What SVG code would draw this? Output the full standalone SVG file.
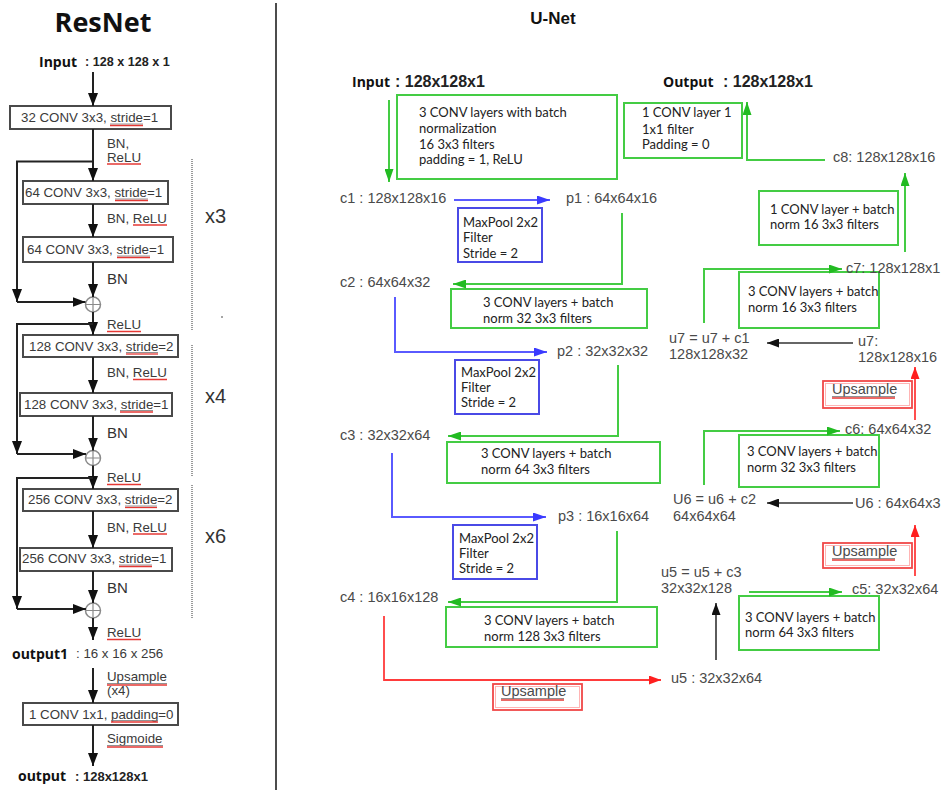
<svg xmlns="http://www.w3.org/2000/svg" width="941" height="790" viewBox="0 0 941 790">
  <defs>
    <style>
      .ttl{font-family:"Open Sans","Liberation Sans",sans-serif;font-weight:700;fill:#111}
      .ttl2{font-family:"Liberation Sans",Arial,sans-serif;font-weight:700;fill:#111}
      .hd{font-family:"Open Sans","Liberation Sans",sans-serif;font-weight:700;font-size:14px;fill:#111}
      .hdv{font-family:"Liberation Sans",Arial,sans-serif;font-weight:700;fill:#222}
      .rbox{fill:#fff;stroke:#4a4a4a;stroke-width:2}
      .rtx{font-family:"Liberation Sans",Arial,sans-serif;font-size:13.3px;fill:#3a3a3a}
      .rbn{font-family:"Liberation Sans",Arial,sans-serif;font-size:15px;fill:#333}
      .rep{font-family:"Liberation Sans",Arial,sans-serif;font-size:20px;fill:#333}
      .rk{fill:none;stroke:#222;stroke-width:2}
      .sum{fill:#fff;stroke:#8a8a8a;stroke-width:1.5}
      .dots{stroke:#9a9a9a;stroke-width:2;stroke-dasharray:1 1}
      .ul{stroke:#777;stroke-width:0.8}
      .rul{stroke:#e53935;stroke-width:1.3}
      .lbl{font-family:"Liberation Sans",Arial,sans-serif;font-size:14.5px;fill:#4a4a4a}
      .btx{font-family:Lato,"Open Sans",sans-serif;font-size:13px;fill:#222}
      .gbox{fill:#fff;stroke:#44cc44;stroke-width:2}
      .bbox{fill:#fff;stroke:#4a4ae6;stroke-width:2}
      .xbox{fill:#fff;stroke:#f04848;stroke-width:1.8}
      .xin{fill:none;stroke:#ffb4b4;stroke-width:1}
      .lg{fill:none;stroke:#44cc44;stroke-width:2}
      .lb{fill:none;stroke:#5a5aff;stroke-width:2}
      .lr{fill:none;stroke:#ff3b3b;stroke-width:1.8}
      .lk{fill:none;stroke:#333;stroke-width:1.6}
    </style>
    <marker id="mk-r" viewBox="0 0 13 10" refX="13" refY="5" markerWidth="13" markerHeight="10" markerUnits="userSpaceOnUse" orient="auto">
      <path d="M0,0 L13,5 L0,10 Z" fill="#111"/>
    </marker>
    <marker id="mk-g" viewBox="0 0 13 9" refX="13" refY="4.5" markerWidth="13" markerHeight="9" markerUnits="userSpaceOnUse" orient="auto">
      <path d="M0,0 L13,4.5 L0,9 Z" fill="#22bb22"/>
    </marker>
    <marker id="mk-b" viewBox="0 0 13 9" refX="13" refY="4.5" markerWidth="13" markerHeight="9" markerUnits="userSpaceOnUse" orient="auto">
      <path d="M0,0 L13,4.5 L0,9 Z" fill="#3a3aff"/>
    </marker>
    <marker id="mk-x" viewBox="0 0 12 9" refX="12" refY="4.5" markerWidth="12" markerHeight="9" markerUnits="userSpaceOnUse" orient="auto">
      <path d="M0,0 L12,4.5 L0,9 Z" fill="#ff1f1f"/>
    </marker>
    <marker id="mk-k" viewBox="0 0 12 9" refX="12" refY="4.5" markerWidth="12" markerHeight="9" markerUnits="userSpaceOnUse" orient="auto">
      <path d="M0,0 L12,4.5 L0,9 Z" fill="#111"/>
    </marker>
  </defs>

  <rect width="941" height="790" fill="#fff"/>

  <!-- panel divider -->
  <line x1="276" y1="3" x2="276" y2="790" stroke="#111" stroke-width="1.5"/>

  <!-- ===================== ResNet ===================== -->
  <text class="ttl" x="103" y="32" font-size="27" text-anchor="middle">ResNet</text>

  <g id="res-input">
    <text class="hd" x="39" y="67">Input</text>
    <text class="hdv" x="85" y="66" font-size="12.6">: 128 x 128 x 1</text>
  </g>

  <g id="res-conv1">
    <rect class="rbox" x="10" y="106" width="161" height="23"/>
    <text class="rtx" x="21" y="122">32 CONV 3x3, stride=1</text>
    <line class="ul" x1="110" y1="124" x2="143" y2="124"/>
    <line class="rul" x1="110" y1="125.5" x2="143" y2="125.5"/>
  </g>
  <g id="res-conv2">
    <rect class="rbox" x="23" y="181" width="145" height="23"/>
    <text class="rtx" x="25" y="197">64 CONV 3x3, stride=1</text>
    <line class="ul" x1="115" y1="199" x2="148" y2="199"/>
    <line class="rul" x1="115" y1="200.5" x2="148" y2="200.5"/>
  </g>
  <g id="res-conv3">
    <rect class="rbox" x="23" y="237" width="150" height="25"/>
    <text class="rtx" x="27" y="254">64 CONV 3x3, stride=1</text>
    <line class="ul" x1="117" y1="256" x2="150" y2="256"/>
    <line class="rul" x1="117" y1="257.5" x2="150" y2="257.5"/>
  </g>
  <g id="res-conv4">
    <rect class="rbox" x="23" y="335" width="155" height="22"/>
    <text class="rtx" x="29" y="350.5">128 CONV 3x3, stride=2</text>
    <line class="ul" x1="126" y1="352.5" x2="158" y2="352.5"/>
    <line class="rul" x1="126" y1="354" x2="158" y2="354"/>
  </g>
  <g id="res-conv5">
    <rect class="rbox" x="20" y="393" width="152" height="23"/>
    <text class="rtx" x="24" y="408.5">128 CONV 3x3, stride=1</text>
    <line class="ul" x1="120" y1="410.5" x2="153" y2="410.5"/>
    <line class="rul" x1="120" y1="412" x2="153" y2="412"/>
  </g>
  <g id="res-conv6">
    <rect class="rbox" x="23" y="489" width="155" height="22"/>
    <text class="rtx" x="28" y="504">256 CONV 3x3, stride=2</text>
    <line class="ul" x1="125" y1="506" x2="157" y2="506"/>
    <line class="rul" x1="125" y1="507.5" x2="157" y2="507.5"/>
  </g>
  <g id="res-conv7">
    <rect class="rbox" x="20" y="548" width="152" height="23"/>
    <text class="rtx" x="22" y="563">256 CONV 3x3, stride=1</text>
    <line class="ul" x1="119" y1="565" x2="152" y2="565"/>
    <line class="rul" x1="119" y1="566.5" x2="152" y2="566.5"/>
  </g>
  <g id="res-conv8">
    <rect class="rbox" x="23" y="703" width="155" height="22"/>
    <text class="rtx" x="29" y="718.5">1 CONV 1x1, padding=0</text>
    <line class="ul" x1="111" y1="720.5" x2="158" y2="720.5"/>
    <line class="rul" x1="111" y1="722" x2="158" y2="722"/>
  </g>

  <g id="res-sum1">
    <circle class="sum" cx="93" cy="304.5" r="7.5"/>
    <path d="M85.5,304.5 H100.5 M93,297 V312" stroke="#8a8a8a" stroke-width="1.2"/>
  </g>
  <g id="res-sum2">
    <circle class="sum" cx="93" cy="458" r="7.5"/>
    <path d="M85.5,458 H100.5 M93,450.5 V465.5" stroke="#8a8a8a" stroke-width="1.2"/>
  </g>
  <g id="res-sum3">
    <circle class="sum" cx="93" cy="610.5" r="7.5"/>
    <path d="M85.5,610.5 H100.5 M93,603 V618" stroke="#8a8a8a" stroke-width="1.2"/>
  </g>

  <g id="res-output1">
    <text class="hd" x="12" y="659">output1</text>
    <text class="rtx" x="76" y="658" font-size="12.6">: 16 x 16 x 256</text>
  </g>
  <g id="res-output">
    <text class="hd" x="18" y="781">output</text>
    <text class="hdv" x="75" y="781" font-size="13">: 128x128x1</text>
  </g>

  <!-- repeat brackets -->
  <g id="res-repeat">
    <line class="dots" x1="192" y1="159" x2="192" y2="330"/>
    <line class="dots" x1="192" y1="345" x2="192" y2="477"/>
    <line class="dots" x1="192" y1="485" x2="192" y2="618"/>
    <text class="rep" x="205" y="223">x3</text>
    <text class="rep" x="205" y="403">x4</text>
    <text class="rep" x="205" y="543">x6</text>
    <circle cx="222" cy="317" r="0.8" fill="#333"/>
  </g>

  <!-- ResNet connectors and their labels -->
  <g id="res-connectors">
    <line class="rk" x1="93" y1="72" x2="93" y2="106" marker-end="url(#mk-r)"/>
    <line class="rk" x1="93" y1="129" x2="93" y2="181" marker-end="url(#mk-r)"/>
    <line class="rk" x1="93" y1="204" x2="93" y2="237" marker-end="url(#mk-r)"/>
    <line class="rk" x1="93" y1="262" x2="93" y2="297" marker-end="url(#mk-r)"/>
    <line class="rk" x1="93" y1="312" x2="93" y2="335" marker-end="url(#mk-r)"/>
    <line class="rk" x1="93" y1="357" x2="93" y2="393" marker-end="url(#mk-r)"/>
    <line class="rk" x1="93" y1="416" x2="93" y2="450.5" marker-end="url(#mk-r)"/>
    <line class="rk" x1="93" y1="465.5" x2="93" y2="489" marker-end="url(#mk-r)"/>
    <line class="rk" x1="93" y1="511" x2="93" y2="548" marker-end="url(#mk-r)"/>
    <line class="rk" x1="93" y1="571" x2="93" y2="603" marker-end="url(#mk-r)"/>
    <line class="rk" x1="93" y1="618" x2="93" y2="640" marker-end="url(#mk-r)"/>
    <line class="rk" x1="93" y1="668" x2="93" y2="703" marker-end="url(#mk-r)"/>
    <line class="rk" x1="93" y1="725" x2="93" y2="766" marker-end="url(#mk-r)"/>

    <!-- skip connections -->
    <path class="rk" d="M93,161.5 H17 V302" marker-end="url(#mk-r)"/>
    <line class="rk" x1="17" y1="302" x2="85.5" y2="302" marker-end="url(#mk-r)"/>
    <path class="rk" d="M93,324 H17 V454" marker-end="url(#mk-r)"/>
    <line class="rk" x1="17" y1="454" x2="86" y2="454" marker-end="url(#mk-r)"/>
    <path class="rk" d="M93,478 H17 V609" marker-end="url(#mk-r)"/>
    <line class="rk" x1="17" y1="609" x2="86" y2="609" marker-end="url(#mk-r)"/>

    <text class="rtx" x="107" y="148">BN,</text>
    <text class="rtx" x="107" y="161.5">ReLU</text>
    <line class="rul" x1="107" y1="164" x2="141" y2="164"/>
    <text class="rtx" x="107" y="222.5">BN, ReLU</text>
    <line class="rul" x1="133" y1="225" x2="167" y2="225"/>
    <text class="rbn" x="107" y="284">BN</text>
    <text class="rtx" x="107" y="329">ReLU</text>
    <line class="rul" x1="107" y1="331.5" x2="141" y2="331.5"/>
    <text class="rtx" x="107" y="377">BN, ReLU</text>
    <line class="rul" x1="133" y1="379.5" x2="167" y2="379.5"/>
    <text class="rbn" x="107" y="438">BN</text>
    <text class="rtx" x="107" y="482">ReLU</text>
    <line class="rul" x1="107" y1="484.5" x2="141" y2="484.5"/>
    <text class="rtx" x="107" y="531.5">BN, ReLU</text>
    <line class="rul" x1="133" y1="534" x2="167" y2="534"/>
    <text class="rbn" x="107" y="593">BN</text>
    <text class="rtx" x="107" y="637">ReLU</text>
    <line class="rul" x1="107" y1="639.5" x2="141" y2="639.5"/>
    <text class="rtx" x="107" y="681">Upsample</text>
    <line class="ul" x1="107" y1="683.5" x2="167" y2="683.5"/>
    <line class="rul" x1="107" y1="685" x2="167" y2="685"/>
    <text class="rtx" x="107" y="695">(x4)</text>
    <text class="rtx" x="107" y="743">Sigmoide</text>
    <line class="ul" x1="107" y1="745.5" x2="163" y2="745.5"/>
    <line class="rul" x1="107" y1="747" x2="163" y2="747"/>
  </g>

  <!-- ===================== U-Net ===================== -->
  <text class="ttl2" x="553" y="24" font-size="17" text-anchor="middle">U-Net</text>

  <g id="u-input">
    <text class="hd" x="352" y="87">Input</text>
    <text class="hdv" x="395" y="87" font-size="16">: 128x128x1</text>
  </g>
  <g id="u-output">
    <text class="hd" x="663" y="87">Output</text>
    <text class="hdv" x="723" y="87" font-size="16">: 128x128x1</text>
  </g>

  <!-- encoder -->
  <g id="u-conv-in">
    <rect class="gbox" x="397" y="95" width="220" height="84"/>
    <text class="btx" x="419" y="117">3 CONV layers with batch</text>
    <text class="btx" x="419" y="133">normalization</text>
    <text class="btx" x="419" y="149">16 3x3 filters</text>
    <text class="btx" x="419" y="164">padding = 1, ReLU</text>
  </g>
  <g id="u-c1"><text class="lbl" x="340" y="203">c1 : 128x128x16</text></g>
  <g id="u-p1"><text class="lbl" x="566" y="203">p1 : 64x64x16</text></g>
  <g id="u-pool1">
    <rect class="bbox" x="458" y="208" width="84" height="54"/>
    <text class="btx" x="463" y="227">MaxPool 2x2</text>
    <text class="btx" x="463" y="242">Filter</text>
    <text class="btx" x="463" y="258">Stride = 2</text>
  </g>
  <g id="u-c2"><text class="lbl" x="340" y="287">c2 : 64x64x32</text></g>
  <g id="u-conv2">
    <rect class="gbox" x="451" y="289" width="196" height="39"/>
    <text class="btx" x="483" y="307">3 CONV layers + batch</text>
    <text class="btx" x="483" y="323">norm 32 3x3 filters</text>
  </g>
  <g id="u-p2"><text class="lbl" x="557" y="356">p2 : 32x32x32</text></g>
  <g id="u-pool2">
    <rect class="bbox" x="455" y="360" width="84" height="54"/>
    <text class="btx" x="461" y="377">MaxPool 2x2</text>
    <text class="btx" x="461" y="392">Filter</text>
    <text class="btx" x="461" y="407">Stride = 2</text>
  </g>
  <g id="u-c3"><text class="lbl" x="340" y="440">c3 : 32x32x64</text></g>
  <g id="u-conv3">
    <rect class="gbox" x="447" y="442" width="213" height="41"/>
    <text class="btx" x="481" y="458">3 CONV layers + batch</text>
    <text class="btx" x="481" y="474">norm 64 3x3 filters</text>
  </g>
  <g id="u-p3"><text class="lbl" x="558" y="521">p3 : 16x16x64</text></g>
  <g id="u-pool3">
    <rect class="bbox" x="453" y="525" width="84" height="54"/>
    <text class="btx" x="459" y="543">MaxPool 2x2</text>
    <text class="btx" x="459" y="558">Filter</text>
    <text class="btx" x="459" y="573">Stride = 2</text>
  </g>
  <g id="u-c4"><text class="lbl" x="340" y="602">c4 : 16x16x128</text></g>
  <g id="u-conv4">
    <rect class="gbox" x="446" y="607" width="211" height="40"/>
    <text class="btx" x="484" y="625">3 CONV layers + batch</text>
    <text class="btx" x="484" y="641">norm 128 3x3 filters</text>
  </g>
  <g id="u-up1">
    <rect class="xbox" x="493" y="684" width="89" height="26"/>
    <rect class="xin" x="495.5" y="686.5" width="84" height="21"/>
    <text class="lbl" x="501" y="696" font-size="14">Upsample</text>
    <line class="ul" x1="501" y1="698.5" x2="564" y2="698.5"/>
    <line class="rul" x1="501" y1="700" x2="564" y2="700"/>
  </g>

  <!-- decoder -->
  <g id="u-u5"><text class="lbl" x="671" y="683">u5 : 32x32x64</text></g>
  <g id="u-u5sum">
    <text class="lbl" x="661" y="577">u5 = u5 + c3</text>
    <text class="lbl" x="661" y="593">32x32x128</text>
  </g>
  <g id="u-conv5">
    <rect class="gbox" x="739" y="596" width="140" height="54"/>
    <text class="btx" x="745" y="622">3 CONV layers + batch</text>
    <text class="btx" x="745" y="637">norm 64 3x3 filters</text>
  </g>
  <g id="u-c5"><text class="lbl" x="852" y="594">c5: 32x32x64</text></g>
  <g id="u-up2">
    <rect class="xbox" x="823" y="543" width="89" height="25"/>
    <rect class="xin" x="825.5" y="545.5" width="84" height="20"/>
    <text class="lbl" x="832" y="556" font-size="14">Upsample</text>
    <line class="ul" x1="832" y1="558.5" x2="895" y2="558.5"/>
    <line class="rul" x1="832" y1="560" x2="895" y2="560"/>
  </g>
  <g id="u-u6"><text class="lbl" x="855" y="508">U6 : 64x64x3</text></g>
  <g id="u-u6sum">
    <text class="lbl" x="673" y="504">U6 = u6 + c2</text>
    <text class="lbl" x="673" y="521">64x64x64</text>
  </g>
  <g id="u-conv6">
    <rect class="gbox" x="739" y="435" width="140" height="52"/>
    <text class="btx" x="747" y="456">3 CONV layers + batch</text>
    <text class="btx" x="747" y="472">norm 32 3x3 filters</text>
  </g>
  <g id="u-c6"><text class="lbl" x="845" y="434">c6: 64x64x32</text></g>
  <g id="u-up3">
    <rect class="xbox" x="823" y="381" width="89" height="27"/>
    <rect class="xin" x="825.5" y="383.5" width="84" height="22"/>
    <text class="lbl" x="832" y="394" font-size="14">Upsample</text>
    <line class="ul" x1="832" y1="396.5" x2="895" y2="396.5"/>
    <line class="rul" x1="832" y1="398" x2="895" y2="398"/>
  </g>
  <g id="u-u7">
    <text class="lbl" x="858" y="346">u7:</text>
    <text class="lbl" x="858" y="362">128x128x16</text>
  </g>
  <g id="u-u7sum">
    <text class="lbl" x="669" y="343">u7 = u7 + c1</text>
    <text class="lbl" x="669" y="359">128x128x32</text>
  </g>
  <g id="u-conv7">
    <rect class="gbox" x="739" y="272" width="140" height="56"/>
    <text class="btx" x="748" y="296">3 CONV layers + batch</text>
    <text class="btx" x="748" y="312">norm 16 3x3 filters</text>
  </g>
  <g id="u-c7"><text class="lbl" x="846" y="273">c7: 128x128x1</text></g>
  <g id="u-conv8">
    <rect class="gbox" x="759" y="191" width="139" height="54"/>
    <text class="btx" x="770" y="214">1 CONV layer + batch</text>
    <text class="btx" x="770" y="229">norm 16 3x3 filters</text>
  </g>
  <g id="u-c8"><text class="lbl" x="833" y="162">c8: 128x128x16</text></g>
  <g id="u-conv-out">
    <rect class="gbox" x="624" y="103" width="118" height="55"/>
    <text class="btx" x="642" y="117">1 CONV layer 1</text>
    <text class="btx" x="642" y="134">1x1 filter</text>
    <text class="btx" x="642" y="149">Padding = 0</text>
  </g>

  <!-- U-Net connectors -->
  <g id="u-connectors">
    <path class="lg" d="M389,100 V182" marker-end="url(#mk-g)"/>
    <path class="lb" d="M454,200 H550" marker-end="url(#mk-b)"/>
    <path class="lg" d="M622,213 V284 H453" marker-end="url(#mk-g)"/>
    <path class="lb" d="M395,297 V352 H547" marker-end="url(#mk-b)"/>
    <path class="lg" d="M618,365 V436 H448" marker-end="url(#mk-g)"/>
    <path class="lb" d="M392,453 V517 H546" marker-end="url(#mk-b)"/>
    <path class="lg" d="M617,531 V602 H448" marker-end="url(#mk-g)"/>
    <path class="lr" d="M384,616 V680 H661" marker-end="url(#mk-x)"/>
    <path class="lk" d="M716,660 V603" marker-end="url(#mk-k)"/>
    <path class="lg" d="M749,592 H842" marker-end="url(#mk-g)"/>
    <path class="lr" d="M915,576 V525" marker-end="url(#mk-x)"/>
    <path class="lk" d="M853,503 H767" marker-end="url(#mk-k)"/>
    <path class="lg" d="M704,485 V431 H840" marker-end="url(#mk-g)"/>
    <path class="lr" d="M915,420 V367" marker-end="url(#mk-x)"/>
    <path class="lk" d="M853,343 H767" marker-end="url(#mk-k)"/>
    <path class="lg" d="M704,323 V269 H842" marker-end="url(#mk-g)"/>
    <path class="lg" d="M905,252 V173" marker-end="url(#mk-g)"/>
    <path class="lg" d="M825,160 H747 V102" marker-end="url(#mk-g)"/>
  </g>
</svg>
